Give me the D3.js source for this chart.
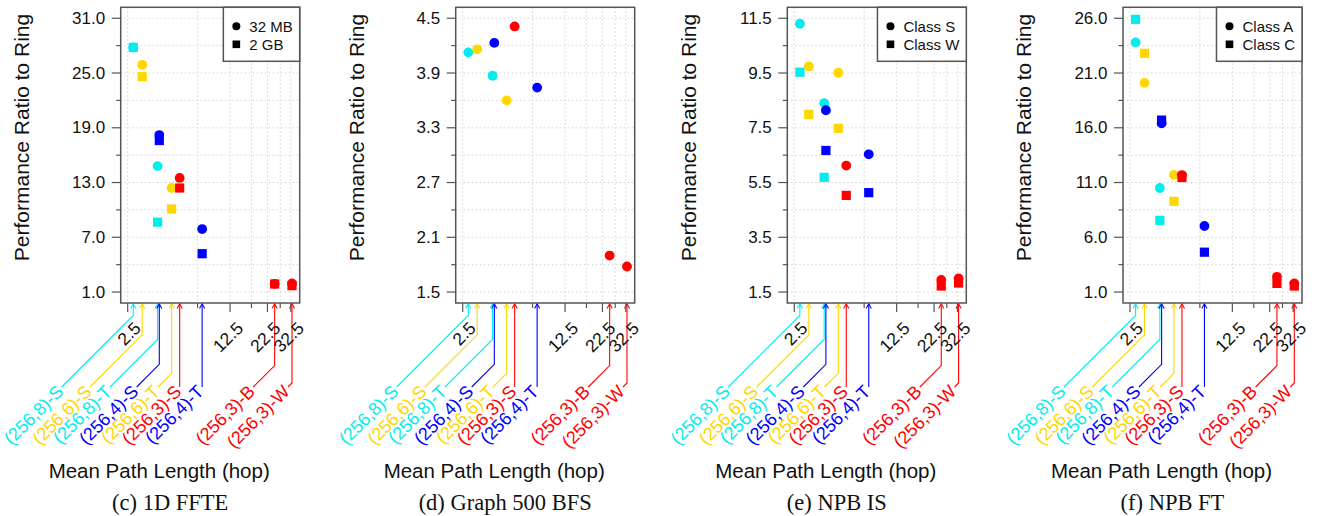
<!DOCTYPE html>
<html><head><meta charset="utf-8">
<script src="https://cdn.jsdelivr.net/npm/d3@7"></script>
<style>body{margin:0;background:#fff} svg{display:block}</style>
</head><body><svg id="c" width="1328" height="516"></svg>
<script>
// ---------- data ----------
const topologies = ["(256,8)-S","(256,6)-S","(256,8)-T","(256,4)-S","(256,6)-T","(256,3)-S","(256,4)-T","(256,3)-B","(256,3)-W"];
const pathLength = [2.73, 3.14, 4.00, 4.11, 4.99, 5.66, 8.06, 25.2, 33.1];

const fft32MB = [27.8, 25.9, 14.8, 18.2, 12.4, 13.5, 7.9, 1.9, 1.95];
const fft2GB  = [27.8, 24.6, 8.66, 17.6, 10.1, 12.4, 5.2, 1.88, 1.7];
const bfs     = [4.126, 4.16, 3.87, 4.23, 3.60, 4.41, 3.74, 1.90, 1.78];
const isClassS = [11.3, 9.74, 8.4, 8.14, 9.51, 6.12, 6.53, 1.94, 2.0];
const isClassW = [9.53, 7.99, 5.69, 6.67, 7.48, 5.03, 5.13, 1.72, 1.83];
const ftClassA = [23.8, 20.1, 10.5, 16.4, 11.7, 11.68, 7.03, 2.39, 1.79];
const ftClassC = [25.9, 22.8, 7.55, 16.7, 9.28, 11.46, 4.64, 1.79, 1.55];

const xTicks = [2.5, 7.5, 12.5, 17.5, 22.5, 27.5, 32.5];
const xTickLabels = ["2.5", "", "12.5", "", "22.5", "", "32.5"];

const fftYTicks = [1, 4, 7, 10, 13, 16, 19, 22, 25, 28, 31];
const bfsYTicks = [1.5, 1.8, 2.1, 2.4, 2.7, 3.0, 3.3, 3.6, 3.9, 4.2, 4.5];
const isYTicks  = [1.5, 2.5, 3.5, 4.5, 5.5, 6.5, 7.5, 8.5, 9.5, 10.5, 11.5];
const ftYTicks  = [1, 3.5, 6, 8.5, 11, 13.5, 16, 18.5, 21, 23.5, 26];

const fftLegend = ["32 MB", "2 GB"];
const isLegend  = ["Class S", "Class W"];
const ftLegend  = ["Class A", "Class C"];
const captions = ["(c) 1D FFTE", "(d) Graph 500 BFS", "(e) NPB IS", "(f) NPB FT"];

// ---------- styles / layout ----------
const topoColors = ["#00EEEE","#FFD700","#00EEEE","#0000FF","#FFD700","#FF0000","#0000FF","#FF0000","#FF0000"];
const labelOffsets = [-59, -30.7, -10.7, 16, 37.3, 59, 81.6, 132.6, 167.3];
const panelLefts = [120.7, 455.7, 787.3, 1123];
const W = 179, TOP = 7.3, BOTTOM = 303, LABEL_Y = 387;
const FONT = "'Liberation Sans', Arial, Helvetica, sans-serif";
const SERIF = "'Liberation Serif', 'Times New Roman', serif";

const panels = [
  {series:[fft32MB, fft2GB], yTicks:fftYTicks, legend:fftLegend},
  {series:[bfs], yTicks:bfsYTicks, legend:null},
  {series:[isClassS, isClassW], yTicks:isYTicks, legend:isLegend},
  {series:[ftClassA, ftClassC], yTicks:ftYTicks, legend:ftLegend}
];

const svg = d3.select("#c");
const axisCol = "#555";

panels.forEach((p, pi) => {
  const left = panelLefts[pi], right = left + W;
  const g = svg.append("g");
  const lo = p.yTicks[0], hi = p.yTicks[p.yTicks.length-1];
  const pad = (hi - lo) * 0.04;
  const y = d3.scaleLinear().domain([lo - pad, hi + pad]).range([BOTTOM, TOP]);
  const x = d3.scaleLog().domain([2.24, 37.36]).range([left, right]);

  // grid
  g.append("g").selectAll("line").data(p.yTicks).join("line")
    .attr("x1", left).attr("x2", right)
    .attr("y1", d => y(d)).attr("y2", d => y(d))
    .attr("stroke", "#d3d3d3").attr("stroke-width", 1).attr("stroke-dasharray", "1.5,2.5");
  g.append("g").selectAll("line").data(xTicks).join("line")
    .attr("x1", d => x(d)).attr("x2", d => x(d))
    .attr("y1", TOP).attr("y2", BOTTOM)
    .attr("stroke", "#d3d3d3").attr("stroke-width", 1).attr("stroke-dasharray", "1.5,2.5");

  // leader lines & labels
  topologies.forEach((t, i) => {
    const ax = x(pathLength[i]);
    let lx = left + labelOffsets[i];
    if (lx > ax) lx = ax;
    const bendY = LABEL_Y - (ax - lx);
    const col = topoColors[i];
    g.append("path")
      .attr("d", `M${ax},${BOTTOM + 0.5} V${bendY} L${lx},${LABEL_Y}`)
      .attr("fill", "none").attr("stroke", col).attr("stroke-width", 1.1);
    g.append("path")
      .attr("d", `M${ax - 2.6},${BOTTOM + 5.5} L${ax},${BOTTOM + 0.8} L${ax + 2.6},${BOTTOM + 5.5}`)
      .attr("fill", "none").attr("stroke", col).attr("stroke-width", 1.1);
    const tx = lx - 1.5, ty = LABEL_Y + 1.5;
    g.append("text")
      .attr("transform", `translate(${tx},${ty}) rotate(-45)`)
      .attr("text-anchor", "end").attr("dominant-baseline", "central")
      .attr("font-family", FONT).attr("font-size", 18).attr("fill", col)
      .text(t);
  });

  // points: circles first, squares on top
  p.series.forEach((vals, si) => {
    const sg = g.append("g");
    if (si === 0) {
      sg.selectAll("circle").data(vals).join("circle")
        .attr("cx", (d, i) => x(pathLength[i])).attr("cy", d => y(d))
        .attr("r", 4.9).attr("fill", (d, i) => topoColors[i]);
    } else {
      sg.selectAll("rect").data(vals).join("rect")
        .attr("x", (d, i) => x(pathLength[i]) - 4.6).attr("y", d => y(d) - 4.6)
        .attr("width", 9.2).attr("height", 9.2).attr("fill", (d, i) => topoColors[i]);
    }
  });

  // box
  g.append("rect").attr("x", left).attr("y", TOP).attr("width", W).attr("height", BOTTOM - TOP)
    .attr("fill", "none").attr("stroke", axisCol).attr("stroke-width", 1.5);

  // y ticks
  p.yTicks.forEach((v, i) => {
    const major = i % 2 === 0;
    g.append("line").attr("x1", left).attr("x2", left - (major ? 9 : 4.5))
      .attr("y1", y(v)).attr("y2", y(v)).attr("stroke", axisCol).attr("stroke-width", 1.2);
    if (major) {
      g.append("text").attr("x", left - 15.5).attr("y", y(v))
        .attr("text-anchor", "end").attr("dominant-baseline", "central")
        .attr("font-family", FONT).attr("font-size", 17).attr("fill", "#111")
        .text(d3.format(".1f")(v));
    }
  });

  // x ticks
  xTicks.forEach((v, i) => {
    const major = xTickLabels[i] !== "";
    g.append("line").attr("x1", x(v)).attr("x2", x(v))
      .attr("y1", BOTTOM).attr("y2", BOTTOM + (major ? 9 : 5))
      .attr("stroke", axisCol).attr("stroke-width", 1.2);
    if (major) {
      g.append("text")
        .attr("transform", `translate(${x(v) + 10},${325}) rotate(-45)`)
        .attr("text-anchor", "end").attr("dominant-baseline", "central")
        .attr("font-family", FONT).attr("font-size", 17.5).attr("fill", "#111")
        .text(xTickLabels[i]);
    }
  });

  // titles
  g.append("text")
    .attr("transform", `translate(${left - 91.7},${137.5}) rotate(-90)`)
    .attr("text-anchor", "middle")
    .attr("font-family", FONT).attr("font-size", 21).attr("fill", "#111")
    .text("Performance Ratio to Ring");
  g.append("text").attr("x", left + W / 2 - 51).attr("y", 477.7)
    .attr("text-anchor", "middle")
    .attr("font-family", FONT).attr("font-size", 20.5).attr("fill", "#111")
    .text("Mean Path Length (hop)");
  g.append("text").attr("x", left + W / 2 - 40).attr("y", 510)
    .attr("text-anchor", "middle")
    .attr("font-family", SERIF).attr("font-size", 22.5).attr("fill", "#111")
    .text(captions[pi]);

  // legend
  if (p.legend) {
    const lg = g.append("g");
    const rect = lg.append("rect");
    const texts = p.legend.map((t, k) => lg.append("text")
      .attr("y", TOP + 19 + k * 18).attr("dominant-baseline", "central")
      .attr("font-family", FONT).attr("font-size", 15).attr("fill", "#111").text(t));
    const tw = d3.max(texts, t => t.node().getComputedTextLength());
    const lw = tw + 33;
    const lleft = right - lw;
    texts.forEach(t => t.attr("x", lleft + 26));
    rect.attr("x", lleft).attr("y", TOP).attr("width", lw).attr("height", 54)
      .attr("fill", "#fff").attr("stroke", axisCol).attr("stroke-width", 1.5);
    lg.append("circle").attr("cx", lleft + 13).attr("cy", TOP + 19).attr("r", 4).attr("fill", "#000");
    lg.append("rect").attr("x", lleft + 9.2).attr("y", TOP + 37 - 3.8).attr("width", 7.6).attr("height", 7.6).attr("fill", "#000");
  }
});
</script>
</body></html>
